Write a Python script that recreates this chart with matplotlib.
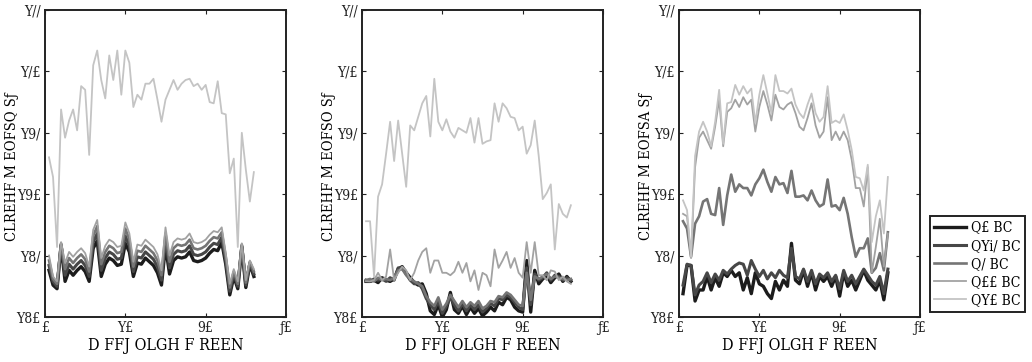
import os
import numpy as np
import matplotlib
matplotlib.use("Agg")
import matplotlib.pyplot as plt
from matplotlib import font_manager as fm

# ============================================================
# DATA
# ============================================================

x = np.arange(1, 53)

series_labels = ["Q£ BC", "QYi/ BC", "Q/ BC", "Q££ BC", "QY£ BC"]

# panel 1
p1_s0 = [233.8, 232.6, 232.3, 235.8, 232.9, 233.8, 233.4, 233.8, 234.1, 233.7,
         232.9, 235.6, 236.2, 233.3, 234.3, 234.8, 234.6, 234.2, 234.3, 236.0,
         235.3, 233.3, 234.4, 234.3, 234.8, 234.5, 234.2, 233.6, 232.6, 235.8,
         233.5, 234.6, 234.9, 234.8, 234.9, 235.3, 234.6, 234.5, 234.6, 234.8,
         235.2, 235.5, 235.4, 236.1, 234.3, 231.8, 233.3, 232.3, 235.7, 232.4,
         234.3, 233.3]
p1_s1 = [234.2, 232.9, 232.5, 235.9, 233.4, 234.3, 233.9, 234.3, 234.6, 234.2,
         233.3, 236.1, 236.8, 233.8, 234.8, 235.3, 235.1, 234.7, 234.8, 236.6,
         235.8, 233.7, 234.9, 234.8, 235.3, 235.0, 234.7, 234.1, 233.0, 236.3,
         234.0, 235.1, 235.4, 235.3, 235.4, 235.8, 235.1, 235.0, 235.1, 235.3,
         235.7, 236.0, 235.9, 236.5, 234.6, 232.1, 233.5, 232.5, 235.8, 232.6,
         234.4, 233.5]
p1_s2 = [234.6, 233.1, 232.7, 236.0, 233.9, 234.8, 234.4, 234.8, 235.1, 234.7,
         233.7, 236.6, 237.4, 234.3, 235.3, 235.8, 235.6, 235.2, 235.3, 237.2,
         236.3, 234.1, 235.4, 235.3, 235.8, 235.5, 235.2, 234.6, 233.4, 236.8,
         234.5, 235.6, 235.9, 235.8, 235.9, 236.3, 235.6, 235.5, 235.6, 235.8,
         236.2, 236.5, 236.4, 236.9, 234.9, 232.4, 233.7, 232.7, 235.9, 232.8,
         234.5, 233.7]
p1_s3 = [235.0, 233.3, 232.9, 236.1, 234.4, 235.3, 234.9, 235.3, 235.6, 235.2,
         234.1, 237.1, 237.9, 234.8, 235.8, 236.3, 236.1, 235.7, 235.8, 237.7,
         236.8, 234.5, 235.9, 235.8, 236.3, 236.0, 235.7, 235.1, 233.8, 237.3,
         235.0, 236.1, 236.4, 236.3, 236.4, 236.8, 236.1, 236.0, 236.1, 236.3,
         236.7, 237.0, 236.9, 237.3, 235.2, 232.7, 233.9, 232.9, 236.0, 233.0,
         234.6, 233.9]
p1_s4 = [243.0, 241.4, 235.7, 246.9, 244.6, 246.0, 246.9, 245.2, 248.8, 248.5,
         243.2, 250.5, 251.7, 249.3, 247.8, 251.3, 249.3, 251.7, 248.1, 251.7,
         250.7, 247.1, 248.1, 247.7, 249.0, 249.0, 249.4, 247.7, 245.9, 247.7,
         248.5, 249.3, 248.5, 249.0, 249.3, 249.4, 248.8, 249.0, 248.5, 248.9,
         247.5, 247.4, 249.2, 246.6, 246.5, 241.7, 242.9, 235.7, 245.0, 242.0,
         239.4, 241.8]

# panel 2
p2_s0 = [232.9, 232.9, 233.0, 232.8, 233.2, 233.0, 232.9, 233.1, 233.9, 234.1,
         233.6, 233.2, 232.8, 232.6, 232.7, 231.9, 230.5, 230.2, 231.0, 230.0,
         230.6, 232.0, 230.6, 230.3, 230.9, 230.2, 230.8, 230.3, 230.7, 230.1,
         230.4, 230.8, 230.5, 231.2, 231.0, 231.6, 231.4, 230.8, 230.5, 230.4,
         234.6, 230.4, 233.8, 232.7, 233.1, 233.4, 232.8, 233.2, 233.5, 232.9,
         233.3, 232.9]
p2_s1 = [233.0, 232.9, 233.1, 233.0, 233.1, 232.9, 233.2, 233.0, 234.0, 234.0,
         233.5, 233.0, 232.7, 232.8, 232.3, 231.5, 231.0, 230.6, 231.3, 230.3,
         230.9, 231.6, 231.0, 230.5, 231.1, 230.5, 231.0, 230.6, 231.0, 230.4,
         230.7, 231.1, 230.9, 231.5, 231.4, 231.8, 231.6, 231.2, 230.8, 230.6,
         234.0, 231.0, 233.5, 233.0, 233.2, 233.6, 233.0, 233.4, 233.3, 233.0,
         233.2, 233.0]
p2_s2 = [233.0, 233.1, 232.9, 233.2, 233.0, 233.1, 233.0, 233.2, 233.8, 233.9,
         233.4, 233.1, 232.9, 232.7, 232.5, 231.7, 231.2, 230.9, 231.6, 230.6,
         231.1, 231.8, 231.3, 230.8, 231.3, 230.8, 231.2, 230.9, 231.3, 230.7,
         230.9, 231.3, 231.2, 231.7, 231.6, 232.0, 231.8, 231.4, 231.0, 230.9,
         233.6, 231.4, 233.3, 233.1, 233.3, 233.5, 233.1, 233.3, 233.2, 233.1,
         233.0, 233.1]
p2_s3 = [232.9, 232.9, 233.0, 233.6, 233.0, 233.3, 235.5, 233.0, 233.6, 234.1,
         233.8, 233.0, 233.6, 234.6, 235.3, 235.6, 233.6, 234.6, 234.6, 233.6,
         233.6, 233.4, 233.7, 234.5, 233.6, 234.4, 232.9, 233.8, 232.2, 233.6,
         233.4, 232.5, 235.5, 234.0, 234.6, 235.3, 234.0, 234.8, 233.6, 233.2,
         236.1, 233.6, 236.1, 233.4, 233.4, 233.0, 233.8, 233.7, 233.0, 233.3,
         232.9, 232.7]
p2_s4 = [237.8, 237.8, 233.3, 239.8, 240.8, 243.3, 245.9, 242.7, 246.0, 243.3,
         240.6, 245.6, 245.2, 246.3, 247.4, 248.0, 244.7, 249.4, 245.9, 245.2,
         246.1, 245.1, 244.6, 245.4, 245.2, 245.0, 246.2, 244.2, 246.2, 244.1,
         244.3, 244.4, 247.4, 245.9, 247.4, 247.0, 246.3, 246.2, 245.2, 245.5,
         243.3, 244.0, 246.0, 243.1, 239.6, 240.1, 240.8, 235.5, 239.2, 238.4,
         238.1, 239.1]

# panel 3
p3_s0 = [231.9, 234.2, 234.2, 231.3, 232.2, 232.2, 233.3, 232.2, 233.2, 232.5,
         233.6, 233.3, 233.8, 233.3, 233.6, 232.2, 233.2, 231.9, 233.6, 232.7,
         232.5, 231.9, 231.5, 232.9, 232.2, 233.0, 232.5, 236.0, 233.0, 232.7,
         233.8, 232.5, 233.6, 232.2, 233.3, 232.9, 233.3, 232.5, 233.3, 231.7,
         233.6, 232.5, 233.0, 232.2, 233.0, 233.8, 233.0, 232.6, 232.2, 233.0,
         231.4, 233.6]
p3_s1 = [232.6, 234.3, 234.2, 231.8, 232.6, 232.9, 233.6, 232.8, 233.5, 233.0,
         233.8, 233.5, 233.9, 234.2, 234.4, 234.3, 233.4, 234.6, 233.9, 233.3,
         233.8, 233.1, 233.6, 233.2, 233.8, 233.4, 233.2, 235.6, 233.3, 233.1,
         233.9, 232.9, 233.8, 232.7, 233.5, 233.2, 233.6, 232.9, 233.4, 232.3,
         233.8, 232.9, 233.4, 232.7, 233.3, 233.9, 233.4, 232.9, 232.6, 233.3,
         231.9, 233.9]
p3_s2 = [237.8, 237.2, 234.9, 237.6, 238.2, 239.4, 239.6, 238.4, 238.3, 240.5,
         237.5, 239.9, 241.6, 240.2, 240.8, 240.5, 240.5, 239.9, 240.8, 241.3,
         242.0, 241.0, 240.2, 241.4, 240.8, 240.9, 240.1, 241.9, 239.8, 239.8,
         239.9, 239.5, 240.3, 239.5, 239.0, 239.2, 241.2, 239.0, 239.1, 238.7,
         239.7, 238.4, 236.5, 234.9, 235.6, 235.6, 236.4, 233.6, 234.0, 235.2,
         233.8, 236.9]
p3_s3 = [238.4, 238.2, 234.8, 242.2, 244.6, 245.1, 244.4, 243.7, 245.5, 247.7,
         243.9, 246.7, 247.0, 247.7, 247.1, 247.9, 247.3, 247.7, 245.1, 247.1,
         248.4, 247.3, 246.0, 248.1, 247.1, 246.9, 247.3, 247.5, 246.6, 245.5,
         245.2, 246.2, 247.4, 245.6, 244.6, 245.1, 247.9, 244.4, 245.1, 244.4,
         245.1, 244.4, 242.8, 240.5, 240.5, 239.0, 242.2, 233.6, 235.7, 238.0,
         234.1, 236.8]
p3_s4 = [239.5, 238.7, 234.9, 243.1, 245.1, 245.9, 245.1, 243.9, 245.9, 248.5,
         244.1, 247.4, 247.5, 248.9, 248.1, 248.8, 248.2, 248.6, 245.8, 248.1,
         249.7, 248.2, 246.6, 249.7, 248.4, 248.4, 248.2, 248.6, 247.3, 246.6,
         246.2, 247.3, 248.2, 246.6, 245.9, 246.3, 248.8, 245.8, 246.0, 245.8,
         246.5, 245.2, 243.6, 241.4, 241.3, 240.3, 242.4, 236.1, 238.2, 239.5,
         236.8, 241.4]

panels = [
    [p1_s0, p1_s1, p1_s2, p1_s3, p1_s4],
    [p2_s0, p2_s1, p2_s2, p2_s3, p2_s4],
    [p3_s0, p3_s1, p3_s2, p3_s3, p3_s4],
]

y_labels = ["CLREHF M EOFSQ Sƒ", "CLREHF M EOFSO Sƒ", "CLREHF M EOFSA Sƒ"]
x_label = "D FFJ OLGH F REEN"

x_ticks = [0, 20, 40, 60]
x_ticklabels = ["£", "Y£", "9£", "ƒ£"]
y_ticks = [230, 235, 240, 245, 250, 255]
y_ticklabels = ["Y8£", "Y8/", "Y9£", "Y9/", "Y/£", "Y//"]

# ============================================================
# FONT: narrow serif if one is installed
# ============================================================

font_file = None
for wanted in ["DejaVuSerifCondensed.ttf", "LiberationSansNarrow-Regular.ttf",
               "LiberationSerif-Regular.ttf"]:
    for f in fm.fontManager.ttflist:
        if os.path.basename(f.fname) == wanted:
            font_file = f.fname
            break
    if font_file:
        break

def fprop(size):
    if font_file:
        return fm.FontProperties(fname=font_file, size=size)
    return fm.FontProperties(family="serif", size=size)

# ============================================================
# STYLE
# ============================================================

colors = ["#1c1c1c", "#474747", "#757575", "#a2a2a2", "#c4c4c4"]
widths = [2.4, 2.2, 1.9, 1.3, 1.3]

fig = plt.figure(figsize=(10.32, 3.62), dpi=100)

lefts = [45 / 1032, 362 / 1032, 679 / 1032]
bottom = 45 / 362
height = 307 / 362
width = 241 / 1032

for i, series in enumerate(panels):
    ax = fig.add_axes([lefts[i], bottom, width, height])
    for k, vals in enumerate(series):
        ax.plot(x, vals, color=colors[k], lw=widths[k], label=series_labels[k],
                solid_joinstyle="round")

    ax.set_xlim(0, 60)
    ax.set_ylim(230, 255)
    ax.set_xticks(x_ticks)
    ax.set_xticklabels(x_ticklabels, fontproperties=fprop(10))
    ax.set_yticks(y_ticks)
    ax.set_yticklabels(y_ticklabels, fontproperties=fprop(10))
    ax.tick_params(direction="in", length=3, width=0.8, top=True, right=True,
                   pad=3, colors="#222222")
    for sp in ax.spines.values():
        sp.set_linewidth(1.4)
        sp.set_color("#222222")
    ax.set_xlabel(x_label, fontproperties=fprop(11.5), labelpad=1)
    ax.set_ylabel(y_labels[i], fontproperties=fprop(10.5))
    ax.yaxis.set_label_coords(-26 / 241, 0.49)

    if i == 2:
        leg = ax.legend(loc="lower right", bbox_to_anchor=(1025 / 1032, 50 / 362),
                        bbox_transform=fig.transFigure, prop=fprop(10),
                        fancybox=False, edgecolor="#222222", framealpha=1,
                        handlelength=2.3, handletextpad=0.3, borderpad=0.35,
                        labelspacing=0.3, borderaxespad=0)
        leg.get_frame().set_linewidth(1.4)

fig.savefig("out.png", dpi=100)
